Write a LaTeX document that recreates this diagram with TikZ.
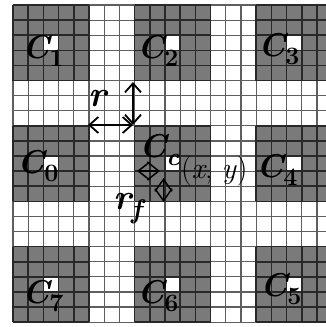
\documentclass[tikz,border=0pt]{standalone}
\usepackage{fontspec}
\usetikzlibrary{arrows.meta}
\definecolor{cellgray}{RGB}{122,122,122}
\definecolor{gridline}{RGB}{95,95,95}
\definecolor{darkline}{RGB}{40,40,40}
\newcommand{\Clab}[1]{{\fontsize{33}{33}\selectfont\bfseries\itshape C}\raisebox{-8pt}{\fontsize{25}{25}\selectfont\bfseries #1}}
\tikzset{
  lab/.style={anchor=base west, inner sep=0pt, outer sep=0pt},
  gline/.style={draw=gridline, line width=1.2pt},
  dline/.style={draw=darkline, line width=1.6pt},
  rarrow/.style={{Straight Barb[length=9pt,width=16pt]}-{Straight Barb[length=9pt,width=16pt]}, line width=1.8pt},
  farrowh/.style={{Straight Barb[length=11.5pt,width=18pt]}-{Straight Barb[length=11.5pt,width=18pt]}, line width=1.5pt},
  farrowv/.style={{Straight Barb[length=12pt,width=17pt]}-{Straight Barb[length=12pt,width=17pt]}, line width=1.5pt}
}
\begin{document}
\begin{tikzpicture}[x=1pt,y=-1pt]
\useasboundingbox (0,0) rectangle (326,327);
\fill[white] (0,0) rectangle (326,327);
\begin{scope}
\clip (0,0) rectangle (326,327);
\foreach \bi in {0,1,2} {
  \foreach \bj in {0,1,2} {
    \fill[cellgray] ({13+15.2*8*\bi},{5+15.1*8*\bj}) rectangle ++(76,75.5);
    \fill[white] ({13+15.2*(8*\bi+2)},{5+15.1*(8*\bj+2)}) rectangle ++(15.2,15.1);
  }
}
\foreach \i in {0,...,21} \draw[gline] ({13+15.2*\i},5) -- ({13+15.2*\i},322.1);
\foreach \j in {0,...,21} \draw[gline] (13,{5+15.1*\j}) -- (332.2,{5+15.1*\j});
\foreach \bi in {0,1,2} {
  \foreach \bj in {0,1,2} {
    \foreach \k in {0,...,5} {
      \draw[dline] ({13+15.2*(8*\bi+\k)},{5+15.1*8*\bj}) -- ++(0,75.5);
      \draw[dline] ({13+15.2*8*\bi},{5+15.1*(8*\bj+\k)}) -- ++(76,0);
    }
  }
}
\end{scope}
% labels
\node[lab] (c1) at (22,58) {\Clab{1}};
\node[lab] (c2) at (137,58) {\Clab{2}};
\node[lab] (c3) at (258,56) {\Clab{3}};
\node[lab] (c0) at (17,173) {\Clab{0}};
\node[lab] (cc) at (139,157) {\Clab{\itshape c}};
\node[lab] (c4) at (256,177) {\Clab{4}};
\node[lab] (c7) at (22,303) {\Clab{7}};
\node[lab] (c6) at (137,303) {\Clab{6}};
\node[lab] (c5) at (260,296) {\Clab{5}};
\node[lab] (xy) at (181,178) {\fontsize{30}{30}\selectfont(\textit{x}, \textit{y})};
\node[lab] (rlab) at (88,106) {\fontsize{36}{36}\selectfont\bfseries\itshape r};
\node[lab] (rflab) at (113,209) {{\fontsize{36}{36}\selectfont\bfseries\itshape r}\raisebox{-9pt}{\fontsize{27}{27}\selectfont\bfseries\itshape f}};
% r arrows
\coordinate (rvtop) at (133,82);
\coordinate (corner) at (133,125);
\coordinate (rhleft) at (88,125);
\draw[rarrow] (rvtop) -- (corner);
\draw[rarrow] (rhleft) -- (corner);
% r_f arrows
\coordinate (fh1) at (137,171);
\coordinate (fh2) at (160,171);
\coordinate (fv1) at (163.5,178);
\coordinate (fv2) at (163.5,202);
\draw[farrowh] (fh1) -- (fh2);
\draw[farrowv] (fv1) -- (fv2);
\end{tikzpicture}
\end{document}
